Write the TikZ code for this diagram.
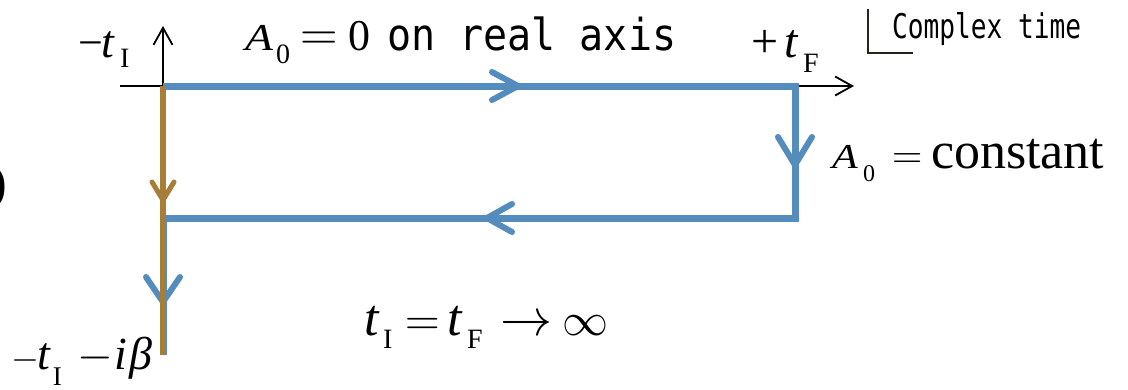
\RequirePackage{fix-cm}
\documentclass[tikz,border=0pt]{standalone}
\usepackage{fontspec}
\usepackage{graphicx}
\setmainfont{Liberation Serif}
\newfontfamily\gothic{DejaVu Sans Mono}
\usetikzlibrary{decorations.markings,arrows.meta}
\definecolor{cblue}{RGB}{84,140,190}
\definecolor{cbrown}{RGB}{166,126,56}
\definecolor{cdark}{RGB}{40,34,28}
\newcommand\fs[1]{\fontsize{#1}{#1}\selectfont}
\newcommand\pc[2]{\makebox[#1pt][l]{#2}}
\newcommand\lowsub[3]{\raisebox{-#1pt}{\fs{#2}#3}}
\newcommand\wideA[1]{\scalebox{1.2}[1]{\fs{#1}\textit{A}}}
\tikzset{
  lbl/.style={inner sep=0pt, outer sep=0pt, anchor=base west, text=black},
  axisline/.style={line width=1.8pt, black, -{Straight Barb[length=17pt,width=19pt,line width=1.8pt]}},
  chevron/.style n args={5}{postaction={decorate,decoration={markings,
      mark=at position #1 with {\draw[#5, line width=#4, line cap=round, line join=round]
        (-#2,#3) -- (0,0) -- (-#2,-#3);}}}},
  contour/.style={cblue, line width=7pt, line join=miter},
  thermal/.style={cbrown, line width=5.5pt},
}
\begin{document}
\begin{tikzpicture}[x=1pt,y=-1pt]
\useasboundingbox (0,0) rectangle (1128,389);
% key points
\coordinate (xs) at (120,86);
\coordinate (xe) at (854,86);
\coordinate (ye) at (163,26);
\coordinate (tl) at (163,86);
\coordinate (tr) at (795,86);
\coordinate (br) at (795,218);
\coordinate (bl) at (163,218);
\coordinate (bot) at (163,355);
% axes
\draw[axisline] (xs) -- (xe);
\draw[axisline] (tl) -- (ye);
% blue contour
\draw[contour,
  chevron={355pt}{26}{14}{6pt}{cblue},
  chevron={711pt}{28}{17}{6pt}{cblue},
  chevron={1072pt}{25}{14}{6pt}{cblue},
  chevron={1480pt}{25}{17}{6pt}{cblue}]
  (tl) -- (tr) -- (br) -- (bl) -- (bot);
% brown thermal line
\draw[thermal, chevron={114pt}{18}{11}{5pt}{cbrown}] (tl) -- (bot);
% complex time bracket
\coordinate (ct1) at (868,9);
\coordinate (ct2) at (868,53);
\coordinate (ct3) at (913,53);
\draw[cdark, line width=1.8pt] (ct1) -- (ct2) -- (ct3);
\node[lbl] (ctime) at (892,38) {\scalebox{0.77}[1]{\gothic\fs{34}Complex time}};
% labels
\node[lbl] (ti) at (78,57) {\pc{23}{\fs{44}\textminus}\pc{19}{\fs{46}\textit{t}}\lowsub{10}{28}{I}};
\node[lbl] (a0top) at (245,50) {\pc{31}{\wideA{38}}\pc{24}{\lowsub{13}{28}{0}}\pc{48}{\fs{52}$=$}\pc{39}{\fs{44}0}\scalebox{0.91}[1]{\gothic\fs{44}on real axis}};
\node[lbl] (tf) at (751,57) {\pc{33}{\fs{48}+}\pc{19}{\fs{48}\textit{t}}\lowsub{15}{28}{F}};
\node[lbl] (a0c) at (832,168) {\pc{31}{\wideA{35}}\pc{29}{\lowsub{13}{24}{0}}\pc{39}{\fs{42}$=$}\fs{52}constant};
\node[lbl] (lim) at (364,335) {\pc{19}{\fs{52}\textit{t}}\pc{22}{\lowsub{13}{28}{I}}\pc{42}{\fs{48}$=$}\pc{20}{\fs{52}\textit{t}}\pc{33}{\lowsub{13}{28}{F}}\pc{62}{\fs{52}$\to$}\fs{46}$\infty$};
\node[lbl] (tib) at (12,369) {\pc{26}{\fs{36}$-$}\pc{15}{\fs{46}\textit{t}}\pc{25}{\lowsub{16}{27}{I}}\pc{37}{\fs{46}$-$}\pc{15}{\fs{46}\textit{i}}\fs{46}\textit{β}};
\node[inner sep=0pt, anchor=east] (paren) at (7,187) {\fs{50})};
\end{tikzpicture}
\end{document}
